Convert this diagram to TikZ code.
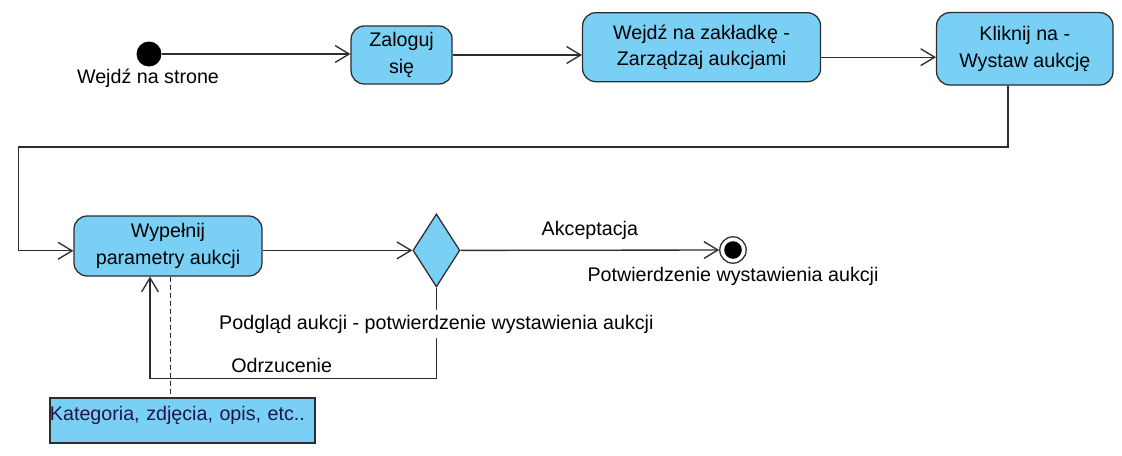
\documentclass[tikz,border=0pt]{standalone}
\usepackage{fontspec}
\setmainfont{Liberation Sans}
\usetikzlibrary{arrows.meta,shapes.geometric}
\definecolor{actfill}{RGB}{122,207,244}
\definecolor{actline}{RGB}{45,45,45}
\definecolor{notetext}{RGB}{35,20,75}
\begin{document}
\begin{tikzpicture}[
  font=\fontsize{14}{19}\selectfont,
  act/.style={draw=actline, fill=actfill, rounded corners=0.33cm, align=center, line width=0.9pt},
  flow/.style={draw=actline, line width=0.95pt, -{Straight Barb[length=0.35cm,width=0.42cm]}},
  line/.style={draw=actline, line width=0.95pt}
]
\useasboundingbox (0,0) rectangle (28.05,-11.4);
\node[circle, fill=black, minimum size=0.625cm, inner sep=0] (start) at (3.725,-1.35) {};
\node (startlbl) at (3.7,-1.95) {Wejdź na strone};
\node[act, minimum width=2.525cm, minimum height=1.45cm] (login) at (10.04,-1.375) {Zaloguj\\się};
\node[act, minimum width=5.95cm, minimum height=1.725cm] (tab) at (17.54,-1.18) {Wejdź na zakładkę -\\Zarządzaj aukcjami};
\node[act, minimum width=4.41cm, minimum height=1.81cm] (click) at (25.62,-1.22) {Kliknij na -\\Wystaw aukcję};
\node[act, minimum width=4.7cm, minimum height=1.5cm] (fill) at (4.2,-6.15) {Wypełnij\\parametry aukcji};
\node[diamond, draw=actline, fill=actfill, line width=0.9pt, inner sep=0, minimum width=1.175cm, minimum height=1.825cm] (dec) at (10.91,-6.26) {};
\node[circle, draw=actline, fill=white, line width=0.9pt, minimum size=0.66cm, inner sep=0] (final) at (18.325,-6.25) {};
\node[circle, fill=black, minimum size=0.44cm, inner sep=0] (finaldot) at (final) {};
\node (finallbl) at (18.325,-6.9) {Potwierdzenie wystawienia aukcji};
\node[draw=actline, fill=actfill, line width=0.9pt, text=notetext, inner sep=0, text width=6.625cm, align=left, text height=0.55cm, text depth=0.575cm] (note) at (4.5625,-10.5125) {Kategoria, zdjęcia, opis, etc..};
\coordinate (bend) at (0.4675,-3.675);
% przejscia
\draw[flow] (start) -- (start -| login.west);
\draw[flow] (login) -- (login -| tab.west);
\draw[flow] ([yshift=-0.25cm]tab.east) -- ([yshift=-0.25cm]tab.east -| click.west);
\draw[flow] ([xshift=-0.42cm]click.south) |- (bend) |- ([yshift=-0.12cm]fill.west);
\draw[flow] (fill.east |- dec.west) -- (dec.west);
\draw[flow] (dec.east) -- node[above=0.12cm]{Akceptacja} (final);
\draw[flow] (dec.south) -- node[fill=white, pos=0.4]{Podgląd aukcji - potwierdzenie wystawienia aukcji} ++(0,-2.275) -| node[pos=0.27, above=0.02cm]{Odrzucenie} ([xshift=-0.45cm]fill.south);
\draw[line, dash pattern=on 3.5pt off 2.2pt] ([xshift=0.07cm]fill.south) -- ([xshift=0.07cm]fill.south |- note.north);
\end{tikzpicture}
\end{document}
